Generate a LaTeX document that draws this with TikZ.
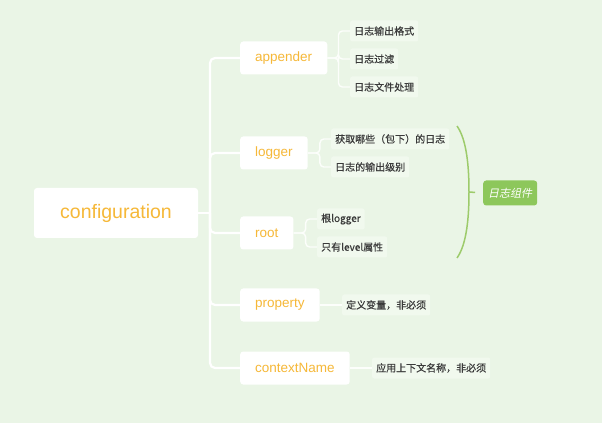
\documentclass[tikz,border=0pt]{standalone}
\usepackage{fontspec}
\setmainfont{Liberation Sans}
\newfontfamily\cjk[FakeBold=0.5]{Noto Sans CJK SC}
\newfontfamily\cjkslant[FakeSlant=0.2]{Noto Sans CJK SC}
\definecolor{cfgBack}{HTML}{EAF5E6}
\definecolor{cfgLeaf}{HTML}{F1F9EE}
\definecolor{cfgOrange}{HTML}{F6B838}
\definecolor{cfgText}{HTML}{3A3A3A}
\definecolor{cfgGreen}{HTML}{8DC75B}
\definecolor{cfgBrace}{HTML}{9DCB6B}
\tikzset{
  cfg main/.style={fill=white, rounded corners=3pt, minimum width=164pt, minimum height=50pt, inner sep=0pt, text=cfgOrange, font=\fontsize{19.5}{22}\selectfont},
  cfg item/.style={fill=white, rounded corners=3pt, minimum height=33pt, inner xsep=15pt, inner ysep=0pt, text=cfgOrange, font=\fontsize{13.5}{16}\selectfont, anchor=west},
  cfg leaf/.style={fill=cfgLeaf, rounded corners=2pt, minimum height=21pt, inner xsep=4pt, inner ysep=0pt, text=cfgText, font=\cjk\fontsize{10}{12}\selectfont, anchor=west},
  cfg tag/.style={fill=cfgGreen, rounded corners=3pt, minimum height=25pt, inner xsep=5pt, inner ysep=0pt, text=white, font=\cjkslant\fontsize{11}{13}\selectfont, anchor=west},
  cfg trunk/.style={draw=white, line width=2.2pt, rounded corners=5pt},
  cfg twig/.style={draw=white!85!cfgBack, line width=1.4pt, rounded corners=4pt},
  cfg brace/.style={draw=cfgBrace, line width=1.5pt},
}
\begin{document}
\begin{tikzpicture}[x=1pt,y=-1pt]
  \useasboundingbox (0,0) rectangle (606,433);
  \fill[white] (0,0) rectangle (606,433);
  \fill[cfgBack] (0,0) rectangle (602,423);

  % root and first level
  \node[cfg main] (config) at (116,213) {configuration};
  \node[cfg item] (appender) at (240,58) {appender};
  \node[cfg item] (logger) at (240,153) {logger};
  \node[cfg item] (rootnode) at (240,233) {root};
  \node[cfg item] (property) at (240,305) {property};
  \node[cfg item] (ctxname) at (240,368) {contextName};

  % leaves
  \node[cfg leaf] (app1) at (350,31) {日志输出格式};
  \node[cfg leaf] (app2) at (350,59) {日志过滤};
  \node[cfg leaf] (app3) at (350,87) {日志文件处理};
  \node[cfg leaf] (log1) at (331,139) {获取哪些（包下）的日志};
  \node[cfg leaf] (log2) at (331,167) {日志的输出级别};
  \node[cfg leaf] (root1) at (317,219) {根logger};
  \node[cfg leaf] (root2) at (317,247) {只有level属性};
  \node[cfg leaf] (prop1) at (342,305) {定义变量，非必须};
  \node[cfg leaf] (ctx1) at (372,368) {应用上下文名称，非必须};

  \node[cfg tag] (tag) at (483,193) {日志组件};

  % trunk
  \coordinate (hub) at (210,213);
  \draw[cfg trunk] (config.east) -- (hub);
  \foreach \n in {appender,logger,rootnode,property,ctxname}
    \draw[cfg trunk] (hub) |- (\n.west);

  % twigs
  \foreach \n in {app1,app2,app3}
    \draw[cfg twig] (appender.east) -- ++(11,0) |- (\n.west);
  \foreach \n in {log1,log2}
    \draw[cfg twig] (logger.east) -- ++(12,0) |- (\n.west);
  \foreach \n in {root1,root2}
    \draw[cfg twig] (rootnode.east) -- ++(12,0) |- (\n.west);
  \draw[cfg twig] (property.east) -- (prop1.west);
  \draw[cfg twig] (ctxname.east) -- (ctx1.west);

  % group brace
  \coordinate (bracetop) at (457,126);
  \coordinate (bracetip) at (469,192);
  \coordinate (bracebot) at (457,258);
  \draw[cfg brace] (bracetop) .. controls (467,140) and (469,168) .. (bracetip)
    .. controls (469,216) and (467,244) .. (bracebot);
  \draw[cfg brace, shorten >=8pt] (bracetip) -- (tag.west);
\end{tikzpicture}
\end{document}
